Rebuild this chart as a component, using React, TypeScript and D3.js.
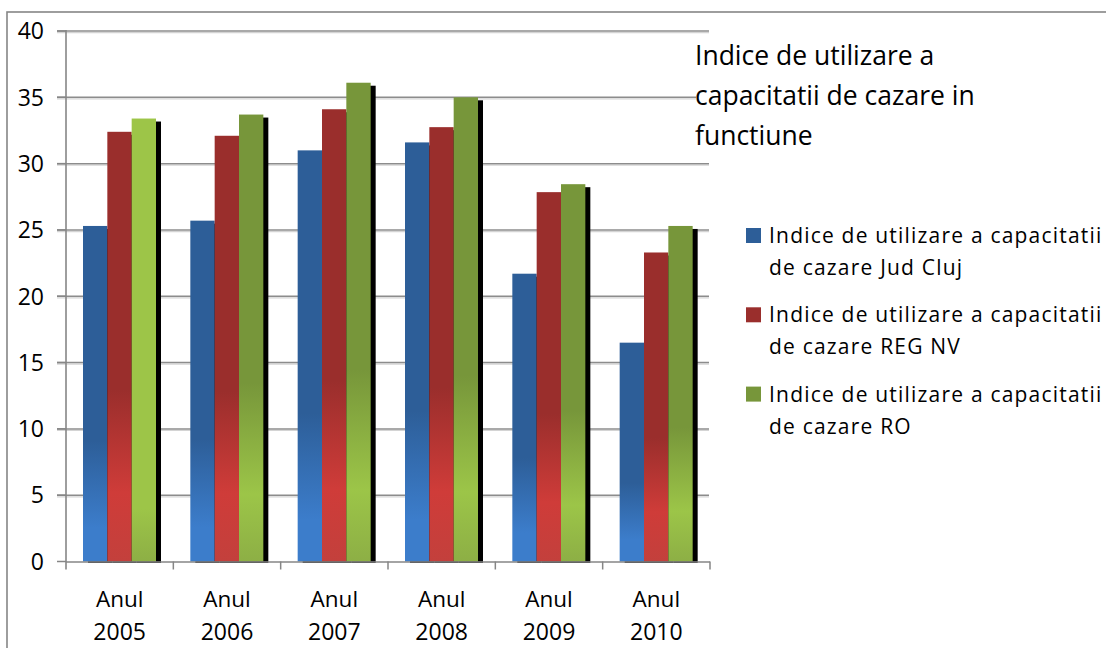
import React from "react";
import * as d3 from "d3";

const categories = ["2005", "2006", "2007", "2008", "2009", "2010"];
const categoryPrefix = "Anul";
const clujValues = [25.3, 25.7, 31.0, 31.6, 21.7, 16.5];
const regNvValues = [32.4, 32.1, 34.1, 32.75, 27.85, 23.3];
const roValues = [33.4, 33.7, 36.1, 35.0, 28.45, 25.3];
const yTicks = [0, 5, 10, 15, 20, 25, 30, 35, 40];
const titleLines = ["Indice de utilizare a", "capacitatii de cazare in", "functiune"];
const legendLines = [
  ["Indice de utilizare a capacitatii", "de cazare Jud Cluj"],
  ["Indice de utilizare a capacitatii", "de cazare REG NV"],
  ["Indice de utilizare a capacitatii", "de cazare RO"],
];

const seriesData = [clujValues, regNvValues, roValues];
const seriesIds = ["blue", "red", "green"];
const legendColors = ["#2D5E98", "#9A2E2C", "#77963A"];
const gradients: Record<string, [number, string][]> = {
  blue: [[0, "#2D5E98"], [0.64, "#2D5E98"], [0.9, "#3C7DCB"], [1, "#3C7DCB"]],
  red: [[0, "#9A2E2C"], [0.6, "#9A2E2C"], [0.84, "#CF3C39"], [1, "#C3403C"]],
  green: [[0, "#77963A"], [0.6, "#77963A"], [0.85, "#9CC548"], [1, "#8DAF45"]],
  greenFlat: [[0, "#9DC548"], [0.88, "#9DC548"], [1, "#8DAF45"]],
};

const FONT = "'Open Sans', sans-serif";

export default function App() {
  const W = 1106;
  const H = 648;
  const left = 66;
  const right = 710;
  const top = 31;
  const bottom = 561.5;

  const x0 = d3.scaleBand<string>().domain(categories).range([left, right]).padding(0);
  const x1 = d3.scaleBand<number>().domain([0, 1, 2]).range([17, 90]).padding(0);
  const y = d3.scaleLinear().domain([0, 40]).range([bottom, top]);
  const bw = x1.bandwidth();

  const fillFor = (s: number, i: number) => {
    if (s === 2 && i === 0) return "url(#g-greenFlat)";
    return `url(#g-${seriesIds[s]})`;
  };

  return (
    <div style={{ position: "fixed", left: 0, top: 0, width: W, height: H, background: "#fff" }}>
      <svg width={W} height={H} style={{ display: "block", fontVariantLigatures: "none" }} fontFamily={FONT}>
        <defs>
          {Object.entries(gradients).map(([id, stops]) => (
            <linearGradient key={id} id={`g-${id}`} x1="0" y1="0" x2="0" y2="1">
              {stops.map(([o, c], k) => (
                <stop key={k} offset={o} stopColor={c} />
              ))}
            </linearGradient>
          ))}
        </defs>
        <rect x={0} y={0} width={W} height={H} fill="#fff" />
        <rect x={7} y={12} width={W + 20} height={H + 20} fill="none" stroke="#868686" strokeWidth={1.6} />

        {yTicks.filter((t) => t !== 0).map((t) => (
          <g key={t}>
            <line x1={left - 9} x2={right - 1} y1={y(t) + 1.6} y2={y(t) + 1.6} stroke="#d4d4d4" strokeWidth={1.2} />
            <line x1={left - 9} x2={right - 1} y1={y(t)} y2={y(t)} stroke="#8c8c8c" strokeWidth={1.5} />
          </g>
        ))}

        {seriesData.map((vals, s) =>
          vals.map((v, i) => {
            const bx = (x0(categories[i]) as number) + (x1(s) as number);
            const by = y(v);
            return (
              <g key={`${s}-${i}`}>
                <rect x={bx + 5} y={by + 3} width={bw} height={bottom - by - 1.5} fill="#000" />
                <rect x={bx} y={by} width={bw} height={bottom - by} fill={fillFor(s, i)} />
              </g>
            );
          })
        )}

        <line x1={left} x2={left} y1={top - 1} y2={bottom + 8} stroke="#868686" strokeWidth={1.6} />
        {yTicks.map((t) => (
          <line key={t} x1={left - 9} x2={left} y1={y(t)} y2={y(t)} stroke="#868686" strokeWidth={1.5} />
        ))}
        {yTicks.map((t) => (
          <text key={t} x={44} y={y(t)} dy="0.36em" textAnchor="end" fontSize={23} fill="#000">
            {t}
          </text>
        ))}

        <line x1={left} x2={right} y1={bottom + 0.5} y2={bottom + 0.5} stroke="#868686" strokeWidth={1.6} />
        {categories.map((c) => {
          const xs = x0(c) as number;
          return <line key={c} x1={xs + x0.bandwidth()} x2={xs + x0.bandwidth()} y1={bottom} y2={bottom + 8} stroke="#868686" strokeWidth={1.5} />;
        })}
        {categories.map((c) => {
          const cx = (x0(c) as number) + x0.bandwidth() / 2;
          return (
            <g key={c}>
              <text x={cx} y={607} textAnchor="middle" fontSize={22.5} fill="#000">{categoryPrefix}</text>
              <text x={cx} y={640} textAnchor="middle" fontSize={23} fill="#000">{c}</text>
            </g>
          );
        })}

        <rect x={696} y={75} width={20} height={40} fill="#fff" />
        {titleLines.map((l, k) => (
          <text key={k} x={695} y={65 + k * 40} fontSize={26.5} fill="#000">{l}</text>
        ))}

        {legendLines.map((lines, k) => {
          const base = 243 + k * 79.3;
          return (
            <g key={k}>
              <rect x={746} y={base - 15} width={15} height={15} fill={legendColors[k]} />
              <text x={769} y={base} fontSize={21} letterSpacing={1.2} fill="#000">{lines[0]}</text>
              <text x={769} y={base + 32} fontSize={21} letterSpacing={1.2} fill="#000">{lines[1]}</text>
            </g>
          );
        })}
      </svg>
    </div>
  );
}
